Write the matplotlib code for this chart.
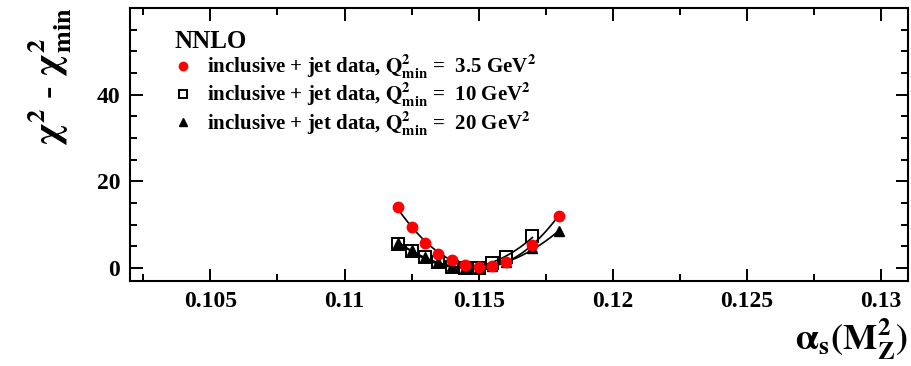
import matplotlib
matplotlib.use("Agg")
import matplotlib.pyplot as plt
import numpy as np
from matplotlib.ticker import MultipleLocator

plt.rcParams['font.family'] = ['Liberation Serif', 'DejaVu Serif']
plt.rcParams['font.weight'] = 'bold'
plt.rcParams['mathtext.fontset'] = 'stix'

# chi2 scan points
alpha_q35 = [0.112, 0.1125, 0.113, 0.1135, 0.114, 0.1145, 0.115, 0.1155, 0.116, 0.117, 0.118]
chi2_q35 = [14.0, 9.4, 5.9, 3.2, 1.8, 0.7, 0.2, 0.5, 1.5, 5.4, 12.1]

alpha_q10 = [0.112, 0.1125, 0.113, 0.1135, 0.114, 0.1145, 0.115, 0.1155, 0.116, 0.117]
chi2_q10 = [5.5, 4.0, 2.5, 1.3, 0.3, 0.0, 0.0, 1.2, 2.6, 7.3]

alpha_q20 = [0.112, 0.1125, 0.113, 0.1135, 0.114, 0.1145, 0.115, 0.1155, 0.116, 0.117, 0.118]
chi2_q20 = [5.8, 4.1, 2.6, 1.3, 0.4, 0.0, 0.0, 0.4, 1.4, 4.6, 8.5]

labels = [r"inclusive + jet data, $\mathbf{Q^{2}_{min}}$ =  3.5 GeV$^{\mathbf{2}}$",
          r"inclusive + jet data, $\mathbf{Q^{2}_{min}}$ =  10 GeV$^{\mathbf{2}}$",
          r"inclusive + jet data, $\mathbf{Q^{2}_{min}}$ =  20 GeV$^{\mathbf{2}}$"]

xticks = [0.105, 0.11, 0.115, 0.12, 0.125, 0.13]
xticklabels = ["0.105", "0.11", "0.115", "0.12", "0.125", "0.13"]
yticks = [0, 20, 40]


def fit_curve(x, y, deg=2):
    p = np.polyfit(x, y, deg)
    xs = np.linspace(min(x), max(x), 200)
    return xs, np.polyval(p, xs)


def main():
    fig = plt.figure(figsize=(9.12, 3.66), dpi=100)
    ax = fig.add_axes([0.1425, 0.232, 0.853, 0.746])

    # parabola fits
    for x, y in [(alpha_q20, chi2_q20), (alpha_q10, chi2_q10), (alpha_q35, chi2_q35)]:
        xs, ys = fit_curve(x, y)
        ax.plot(xs, ys, color="black", lw=1.2, zorder=2)

    h3 = ax.plot(alpha_q20, chi2_q20, ls="none", marker="^", ms=7, color="black", zorder=3)[0]
    h2 = ax.plot(alpha_q10, chi2_q10, ls="none", marker="s", ms=8, mfc="none", mec="black",
                 mew=1.4, zorder=4)[0]
    h1 = ax.plot(alpha_q35, chi2_q35, ls="none", marker="o", ms=7.5, color="red", zorder=5)[0]

    ax.set_xlim(0.102, 0.131)
    ax.set_ylim(-3, 60)
    ax.set_xticks(xticks)
    ax.set_xticklabels(xticklabels)
    ax.set_yticks(yticks)
    ax.xaxis.set_minor_locator(MultipleLocator(0.0025))
    ax.yaxis.set_minor_locator(MultipleLocator(5))
    ax.tick_params(which="both", direction="in", top=True, right=True, width=1.4,
                   labelsize=17, pad=7)
    ax.tick_params(which="major", length=9)
    ax.tick_params(which="minor", length=5)
    for sp in ax.spines.values():
        sp.set_linewidth(1.5)

    ax.set_ylabel(r"$\mathbf{\chi^{2}}$ - $\mathbf{\chi^{2}_{min}}$", fontsize=27)
    ax.yaxis.set_label_coords(-0.103, 0.75)
    ax.yaxis.label.set_verticalalignment("center")
    ax.set_xlabel(r"$\mathbf{\alpha_{s}(M_{Z}^{2})}$", fontsize=26)
    ax.xaxis.set_label_coords(1.0, -0.215)
    ax.xaxis.label.set_horizontalalignment("right")
    ax.xaxis.label.set_verticalalignment("center")

    leg = ax.legend([h1, h2, h3], labels, loc="upper left", bbox_to_anchor=(0.047, 0.95),
                    frameon=False, title="NNLO", alignment="left", fontsize=15,
                    title_fontproperties={"size": 18, "weight": "bold"},
                    handlelength=0.8, handletextpad=0.75, labelspacing=0.0,
                    borderaxespad=0)
    for h in leg.legend_handles:
        h.set_markersize(6)

    plt.savefig("out.png", dpi=100)
    plt.close()


if __name__ == "__main__":
    main()
